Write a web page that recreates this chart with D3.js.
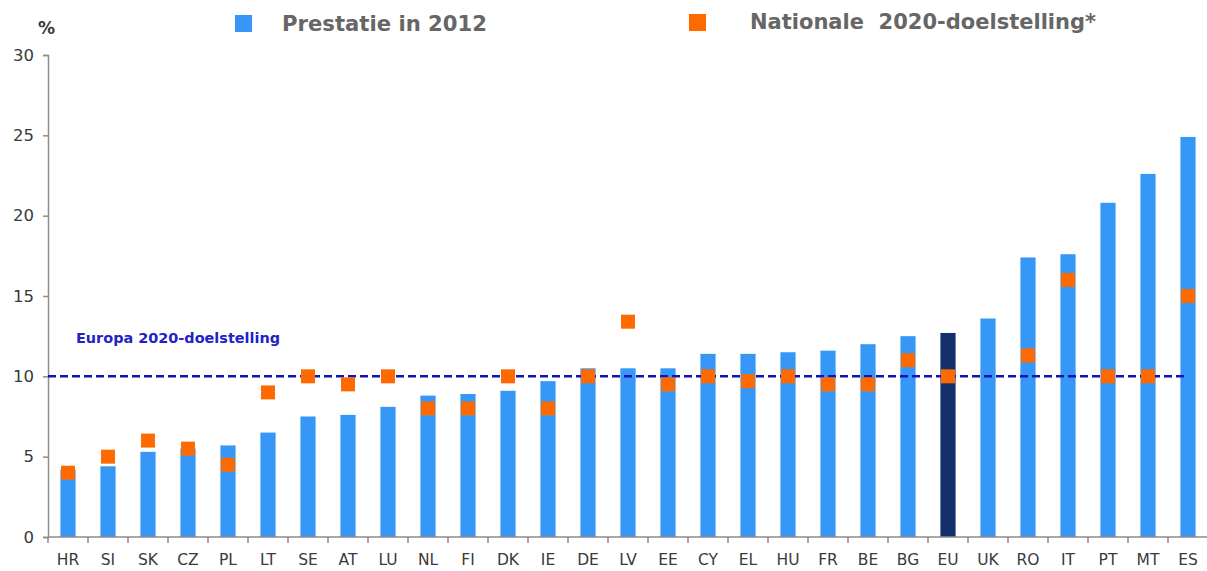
<!DOCTYPE html>
<html><head><meta charset="utf-8">
<script src="https://cdn.jsdelivr.net/npm/d3@7"></script>
<style>body{margin:0;background:#fff}svg{display:block}</style>
</head><body>
<svg id="c" width="1207" height="571"></svg>
<script>
const categories = ["HR","SI","SK","CZ","PL","LT","SE","AT","LU","NL","FI","DK","IE","DE","LV","EE","CY","EL","HU","FR","BE","BG","EU","UK","RO","IT","PT","MT","ES"];
const performance2012 = [4.2,4.4,5.3,5.5,5.7,6.5,7.5,7.6,8.1,8.8,8.9,9.1,9.7,10.5,10.5,10.5,11.4,11.4,11.5,11.6,12.0,12.5,12.7,13.6,17.4,17.6,20.8,22.6,24.9];
const nationalTarget = [4,5,6,5.5,4.5,9,10,9.5,10,8,8,10,8,10,13.4,9.5,10,9.7,10,9.5,9.5,11,10,null,11.3,16,10,10,15];
const yTicks = [0,5,10,15,20,25,30];
const europeTarget = 10;
const legendLabels = ["Prestatie in 2012","Nationale  2020-doelstelling*"];

(function () {
const svg = d3.select("#c");
const mL = 48, mR = 1208, mT = 55, mB = 537;
const x = d3.scaleBand().domain(categories).range([mL, mR]).paddingInner(0.62).paddingOuter(0.31);
const xb = d3.scaleBand().domain(categories).range([mL, mR]);
const y = d3.scaleLinear().domain([0, 30]).range([mB, mT]);
const font = "'DejaVu Sans', Verdana, sans-serif";

// y axis
const ya = svg.append("g").attr("transform", `translate(${mL},0)`)
  .call(d3.axisLeft(y).tickValues(yTicks).tickSize(5).tickPadding(9));
ya.select(".domain").attr("stroke", "#8c8c8c").attr("stroke-width", 1.5);
ya.selectAll(".tick line").attr("stroke", "#8c8c8c").attr("stroke-width", 1.5);
ya.selectAll(".tick text").attr("font-family", font).attr("font-size", 16.5).attr("fill", "#3a3a3a");

// bars
svg.append("g").selectAll("rect").data(categories).join("rect")
  .attr("x", d => x(d)).attr("width", x.bandwidth())
  .attr("y", (d, i) => y(performance2012[i]))
  .attr("height", (d, i) => y(0) - y(performance2012[i]))
  .attr("fill", d => d === "EU" ? "#14306b" : "#3797f7");

// x axis
const xa = svg.append("g").attr("transform", `translate(0,${mB})`);
xa.append("line").attr("x1", mL).attr("x2", mR).attr("stroke", "#8c8c8c").attr("stroke-width", 1.5);
xa.selectAll("line.t").data(categories).join("line").attr("class", "t")
  .attr("x1", d => xb(d)).attr("x2", d => xb(d)).attr("y1", 0).attr("y2", 6)
  .attr("stroke", "#8c8c8c").attr("stroke-width", 1.5);
xa.selectAll("text").data(categories).join("text")
  .attr("x", d => xb(d) + xb.bandwidth() / 2).attr("y", 28)
  .attr("text-anchor", "middle").attr("font-family", font).attr("font-size", 15.5).attr("fill", "#3a3a3a")
  .text(d => d);

// Europe target line
svg.append("line").attr("x1", mL).attr("x2", mR - 20)
  .attr("y1", y(europeTarget)).attr("y2", y(europeTarget))
  .attr("stroke", "#1212b8").attr("stroke-width", 2.5).attr("stroke-dasharray", "8,4");
svg.append("text").attr("x", 76).attr("y", y(europeTarget) - 33)
  .attr("font-family", font).attr("font-size", 14.5).attr("font-weight", "bold").attr("fill", "#2323c4")
  .attr("textLength", 204).attr("lengthAdjust", "spacingAndGlyphs")
  .text("Europa 2020-doelstelling");

// target markers
const sq = 14;
svg.append("g").selectAll("rect").data(categories.map((c, i) => [c, nationalTarget[i]]).filter(d => d[1] != null))
  .join("rect")
  .attr("x", d => xb(d[0]) + xb.bandwidth() / 2 - sq / 2)
  .attr("y", d => y(d[1]) - sq / 2)
  .attr("width", sq).attr("height", sq).attr("fill", "#ff6a00");

// % label
svg.append("text").attr("x", 38).attr("y", 34).attr("font-family", font).attr("font-size", 17)
  .attr("font-weight", "bold").attr("fill", "#3a3a3a").text("%");

// legend
svg.append("rect").attr("x", 235).attr("y", 15).attr("width", 17).attr("height", 17).attr("fill", "#3797f7");
svg.append("text").attr("x", 282).attr("y", 31).attr("font-family", font).attr("font-size", 20.5)
  .attr("font-weight", "bold").attr("fill", "#666").attr("textLength", 205).attr("lengthAdjust", "spacingAndGlyphs").text(legendLabels[0]);
svg.append("rect").attr("x", 689).attr("y", 14).attr("width", 17).attr("height", 17).attr("fill", "#ff6a00");
svg.append("text").attr("x", 750).attr("y", 29).attr("font-family", font).attr("font-size", 20.5)
  .attr("font-weight", "bold").attr("fill", "#666").attr("textLength", 346).attr("lengthAdjust", "spacingAndGlyphs").attr("xml:space", "preserve").text(legendLabels[1]);
})();
</script>
</body></html>
